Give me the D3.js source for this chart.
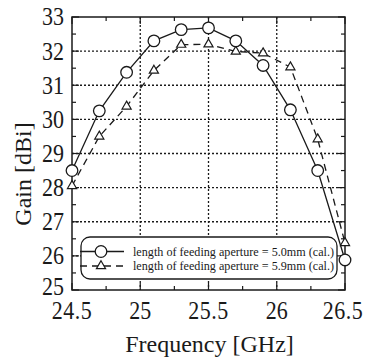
<!DOCTYPE html>
<html>
<head>
<meta charset="utf-8">
<script src="https://cdn.jsdelivr.net/npm/d3@7"></script>
<style>
  body { margin: 0; background: #fff; }
  svg { display: block; font-family: "Liberation Serif", "DejaVu Serif", serif; }
</style>
</head>
<body>
<div id="chart"></div>
<script>
const freq = [24.5, 24.7, 24.9, 25.1, 25.3, 25.5, 25.7, 25.9, 26.1, 26.3, 26.5];
const gain50 = [28.5, 30.25, 31.38, 32.3, 32.63, 32.68, 32.3, 31.58, 30.28, 28.5, 25.88];
const gain59 = [28.05, 29.5, 30.38, 31.43, 32.19, 32.2, 31.99, 31.94, 31.53, 29.42, 26.38];
const xTicks = [24.5, 25, 25.5, 26, 26.5];
const yTicks = [25, 26, 27, 28, 29, 30, 31, 32, 33];
const legendLabels = [
    'length of feeding aperture = 5.0mm (cal.)',
    'length of feeding aperture = 5.9mm (cal.)'
];

const width = 365, height = 360;
const margin = { top: 17, right: 20, bottom: 70, left: 72 };
const ink = '#1a1a1a';

const svg = d3.select('#chart').append('svg')
    .attr('width', width)
    .attr('height', height);

const x = d3.scaleLinear().domain([24.5, 26.5]).range([margin.left, width - margin.right]);
const y = d3.scaleLinear().domain([25, 33]).range([height - margin.bottom, margin.top]);

const x0 = x.range()[0], x1 = x.range()[1];
const y0 = y.range()[0], y1 = y.range()[1];

// dotted grid
const grid = svg.append('g')
    .attr('stroke', ink)
    .attr('stroke-width', 1.3)
    .attr('stroke-dasharray', '2,2');
grid.selectAll('.gx').data(xTicks.slice(1, -1)).enter().append('line')
    .attr('x1', d => x(d)).attr('x2', d => x(d))
    .attr('y1', y1).attr('y2', y0);
grid.selectAll('.gy').data(yTicks.slice(1, -1)).enter().append('line')
    .attr('x1', x0).attr('x2', x1)
    .attr('y1', d => y(d)).attr('y2', d => y(d));

// ticks on all four sides, pointing inward
const xMinor = d3.range(24.75, 26.5, 0.5);
const yMinor = d3.range(25.5, 33, 1);
const tk = svg.append('g').attr('stroke', ink).attr('stroke-width', 1.2);
function xTickLines(vals, len) {
    tk.selectAll(null).data(vals).enter().append('line')
        .attr('x1', d => x(d)).attr('x2', d => x(d)).attr('y1', y0).attr('y2', y0 - len);
    tk.selectAll(null).data(vals).enter().append('line')
        .attr('x1', d => x(d)).attr('x2', d => x(d)).attr('y1', y1).attr('y2', y1 + len);
}
function yTickLines(vals, len) {
    tk.selectAll(null).data(vals).enter().append('line')
        .attr('y1', d => y(d)).attr('y2', d => y(d)).attr('x1', x0).attr('x2', x0 + len);
    tk.selectAll(null).data(vals).enter().append('line')
        .attr('y1', d => y(d)).attr('y2', d => y(d)).attr('x1', x1).attr('x2', x1 - len);
}
xTickLines(xTicks, 7);
xTickLines(xMinor, 4);
yTickLines(yTicks, 7);
yTickLines(yMinor, 4);

svg.append('rect')
    .attr('x', x0).attr('y', y1)
    .attr('width', x1 - x0).attr('height', y0 - y1)
    .attr('fill', 'none').attr('stroke', ink).attr('stroke-width', 1.5);

// tick labels (slightly tall, as in the scanned figure)
svg.append('g').selectAll('text').data(xTicks).enter().append('text')
    .attr('transform', d => `translate(${x(d) - (d === 26.5 ? 2 : 0)},${y0 + 29}) scale(1,1.1)`)
    .attr('text-anchor', 'middle')
    .attr('font-size', 22).attr('fill', ink)
    .attr('letter-spacing', d => d % 1 ? 0.5 : 0)
    .text(d => d);
svg.append('g').selectAll('text').data(yTicks).enter().append('text')
    .attr('transform', d => `translate(${x0 - 8},${y(d) - (d === 25 ? 3 : 0)}) scale(1,1.1)`)
    .attr('dy', '0.35em')
    .attr('text-anchor', 'end')
    .attr('font-size', 22).attr('fill', ink)
    .text(d => d);

svg.append('text')
    .attr('x', 209.5).attr('y', 352)
    .attr('text-anchor', 'middle')
    .attr('font-size', 24).attr('fill', ink)
    .text('Frequency [GHz]');
svg.append('text')
    .attr('transform', 'translate(31,174) rotate(-90)')
    .attr('text-anchor', 'middle')
    .attr('font-size', 24).attr('fill', ink)
    .text('Gain [dBi]');

// series
const line = d3.line().x(d => x(d[0])).y(d => y(d[1]));
const s50 = freq.map((f, i) => [f, gain50[i]]);
const s59 = freq.map((f, i) => [f, gain59[i]]);

const tri = d3.symbol().type(d3.symbolTriangle).size(36);

svg.append('path').datum(s59)
    .attr('d', line)
    .attr('fill', 'none').attr('stroke', ink).attr('stroke-width', 1.3)
    .attr('stroke-dasharray', '7,5');
svg.append('path').datum(s50)
    .attr('d', line)
    .attr('fill', 'none').attr('stroke', ink).attr('stroke-width', 1.3);

svg.append('g').selectAll('path').data(s59).enter().append('path')
    .attr('d', tri)
    .attr('transform', d => `translate(${x(d[0])},${y(d[1])})`)
    .attr('fill', '#fff').attr('stroke', ink).attr('stroke-width', 1.2);
svg.append('g').selectAll('circle').data(s50).enter().append('circle')
    .attr('cx', d => x(d[0])).attr('cy', d => y(d[1]))
    .attr('r', 5.8)
    .attr('fill', '#fff').attr('stroke', ink).attr('stroke-width', 1.3);

// legend
const lg = svg.append('g');
lg.append('rect')
    .attr('x', 81).attr('y', 237)
    .attr('width', 256).attr('height', 42)
    .attr('rx', 9)
    .attr('fill', '#fff').attr('stroke', ink).attr('stroke-width', 1.3);
const rows = lg.selectAll('g.row').data(legendLabels).enter().append('g')
    .attr('transform', (d, i) => `translate(0,${251.5 + i * 14.5})`);
rows.append('line')
    .attr('x1', 80).attr('x2', 124)
    .attr('stroke', ink).attr('stroke-width', 1.3)
    .attr('stroke-dasharray', (d, i) => i ? '7,5' : null);
rows.filter((d, i) => i === 0).append('circle')
    .attr('cx', 101).attr('r', 5.8)
    .attr('fill', '#fff').attr('stroke', ink).attr('stroke-width', 1.3);
rows.filter((d, i) => i === 1).append('path')
    .attr('d', tri).attr('transform', 'translate(101,0)')
    .attr('fill', '#fff').attr('stroke', ink).attr('stroke-width', 1.2);
rows.append('text')
    .attr('x', 133).attr('dy', '0.35em')
    .attr('font-size', 12.5).attr('fill', ink)
    .attr('textLength', 201).attr('lengthAdjust', 'spacingAndGlyphs')
    .text(d => d);
</script>
</body>
</html>
